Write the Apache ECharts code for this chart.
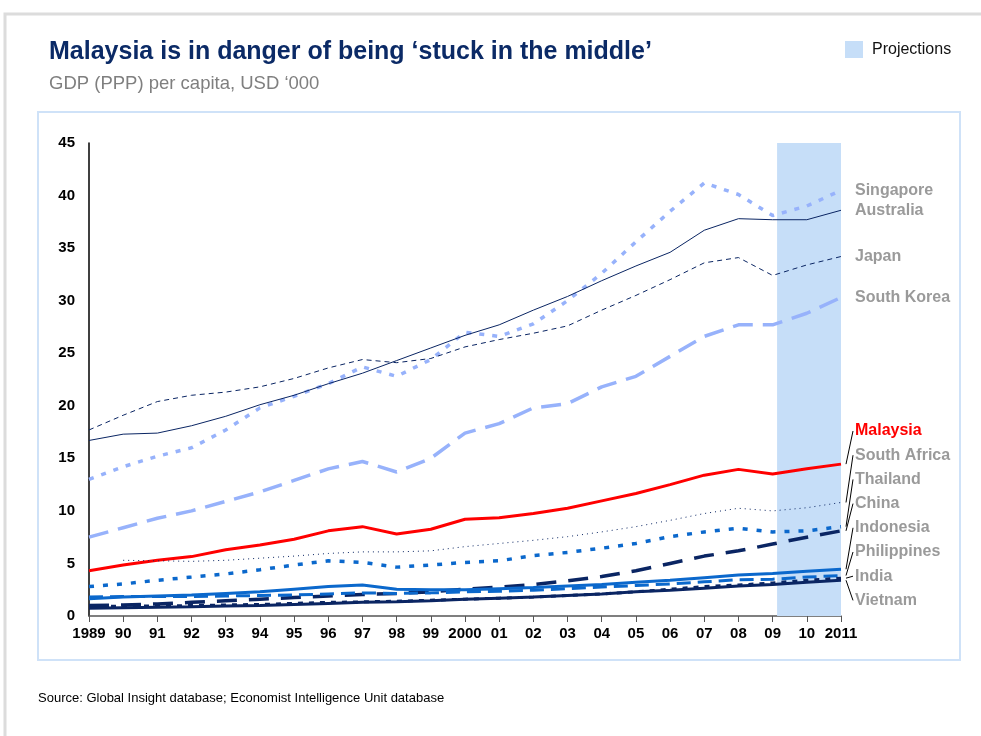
<!DOCTYPE html>
<html>
<head>
<meta charset="utf-8">
<script src="https://cdn.jsdelivr.net/npm/echarts@6/dist/echarts.min.js"></script>
<style>
  html, body { margin: 0; padding: 0; background: #fff; }
  #main { width: 981px; height: 736px; }
</style>
</head>
<body>
<div id="main"></div>
<script>
// years and tick labels
const years = [1989, 1990, 1991, 1992, 1993, 1994, 1995, 1996, 1997, 1998, 1999, 2000,
               2001, 2002, 2003, 2004, 2005, 2006, 2007, 2008, 2009, 2010, 2011];
const xTickLabels = ['1989', '90', '91', '92', '93', '94', '95', '96', '97', '98', '99', '2000',
                     '01', '02', '03', '04', '05', '06', '07', '08', '09', '10', '2011'];
const projectionStart = 2009.13;
const projectionEnd = 2011;

// GDP (PPP) per capita, USD '000
const singapore   = [13.0, 14.2, 15.2, 16.0, 17.7, 19.8, 20.9, 22.1, 23.7, 22.8, 24.4, 27.0, 26.6, 27.8, 30.0, 32.6, 35.6, 38.5, 41.2, 40.1, 38.1, 39.0, 40.5];
const australia   = [16.7, 17.3, 17.4, 18.1, 19.0, 20.1, 21.0, 22.1, 23.1, 24.3, 25.5, 26.7, 27.7, 29.1, 30.4, 31.9, 33.3, 34.6, 36.7, 37.8, 37.7, 37.7, 38.6];
const japan       = [17.7, 19.1, 20.4, 21.0, 21.3, 21.8, 22.6, 23.6, 24.4, 24.1, 24.5, 25.6, 26.3, 26.9, 27.6, 29.1, 30.5, 32.0, 33.6, 34.1, 32.4, 33.4, 34.2];
const southKorea  = [7.5, 8.4, 9.3, 10.0, 10.9, 11.8, 12.9, 14.0, 14.7, 13.7, 15.0, 17.4, 18.3, 19.8, 20.2, 21.8, 22.8, 24.7, 26.6, 27.7, 27.7, 28.8, 30.3];
const malaysia    = [4.3, 4.85, 5.3, 5.65, 6.3, 6.75, 7.3, 8.1, 8.5, 7.8, 8.25, 9.2, 9.35, 9.75, 10.25, 10.95, 11.65, 12.5, 13.4, 13.95, 13.5, 14.0, 14.45];
const southAfrica = [null, 5.3, 5.25, 5.2, 5.3, 5.5, 5.7, 5.95, 6.1, 6.1, 6.2, 6.6, 6.9, 7.2, 7.55, 8.0, 8.5, 9.1, 9.75, 10.25, 10.0, 10.3, 10.8];
const thailand    = [2.8, 3.05, 3.4, 3.7, 4.0, 4.4, 4.85, 5.25, 5.1, 4.65, 4.85, 5.1, 5.25, 5.75, 6.05, 6.45, 6.9, 7.55, 8.0, 8.35, 8.0, 8.1, 8.5];
const china       = [1.0, 1.05, 1.15, 1.3, 1.45, 1.6, 1.75, 1.9, 2.05, 2.15, 2.3, 2.55, 2.75, 3.0, 3.35, 3.75, 4.3, 5.0, 5.7, 6.2, 6.85, 7.5, 8.1];
const indonesia   = [1.65, 1.8, 1.9, 2.0, 2.15, 2.3, 2.55, 2.8, 2.95, 2.55, 2.5, 2.5, 2.6, 2.7, 2.85, 3.0, 3.2, 3.4, 3.65, 3.9, 4.05, 4.25, 4.45];
const philippines = [1.8, 1.85, 1.85, 1.85, 1.9, 1.95, 2.0, 2.1, 2.2, 2.15, 2.2, 2.3, 2.35, 2.45, 2.6, 2.75, 2.9, 3.05, 3.25, 3.45, 3.5, 3.7, 3.85];
const india       = [0.9, 0.95, 0.95, 1.0, 1.05, 1.1, 1.2, 1.3, 1.35, 1.4, 1.5, 1.6, 1.7, 1.8, 1.95, 2.1, 2.3, 2.55, 2.8, 2.95, 3.15, 3.4, 3.6];
const vietnam     = [0.73, 0.78, 0.83, 0.88, 0.94, 1.0, 1.1, 1.2, 1.3, 1.35, 1.45, 1.6, 1.7, 1.8, 1.95, 2.1, 2.3, 2.45, 2.65, 2.85, 3.0, 3.2, 3.4];

const NAVY = '#0a2563';
const LIGHT = '#97b2fb';
const MID = '#0b68cc';
const GREY = '#9a9a9a';
const FONT = 'Arial, "Liberation Sans", sans-serif';

// name, data, colour, width, dash type, label placed at line end?
const seriesDefs = [
    ['Singapore', singapore, LIGHT, 3.5, [5, 8], true],
    ['Australia', australia, NAVY, 1, 'solid', true],
    ['Japan', japan, NAVY, 1, [5, 4], true],
    ['South Korea', southKorea, LIGHT, 3.5, [20, 10], true],
    ['Malaysia', malaysia, '#ff0000', 3, 'solid', false],
    ['South Africa', southAfrica, NAVY, 1, [1, 4], false],
    ['Thailand', thailand, MID, 3.5, [5, 9], false],
    ['China', china, NAVY, 3.5, [20, 12], false],
    ['Indonesia', indonesia, MID, 3, 'solid', false],
    ['Philippines', philippines, MID, 3, [14, 7], false],
    ['India', india, NAVY, 3, [5, 6], false],
    ['Vietnam', vietnam, NAVY, 3, 'solid', false]
];

function pairs(arr) {
    return years.map((y, i) => [y, arr[i]]);
}

const series = [{
    // projections band
    type: 'line',
    data: [],
    z: 1,
    silent: true,
    markArea: {
        silent: true,
        itemStyle: { color: '#c6def8' },
        data: [[{ xAxis: projectionStart, yAxis: 0 }, { xAxis: projectionEnd, yAxis: 45 }]]
    }
}];

seriesDefs.forEach(d => {
    series.push({
        name: d[0],
        type: 'line',
        data: pairs(d[1]),
        z: 3,
        showSymbol: false,
        symbol: 'none',
        connectNulls: false,
        lineStyle: { color: d[2], width: d[3], type: d[4] },
        endLabel: {
            show: d[5],
            formatter: '{a}',
            color: GREY,
            fontFamily: FONT,
            fontWeight: 'bold',
            fontSize: 16,
            distance: 14
        }
    });
});

const chart = echarts.init(document.getElementById('main'));

const option = {
    animation: false,
    backgroundColor: '#fff',
    title: {
        text: 'Malaysia is in danger of being ‘stuck in the middle’',
        subtext: 'GDP (PPP) per capita, USD ‘000',
        left: 44,
        top: 35,
        itemGap: 9,
        textStyle: { color: '#0b2a66', fontSize: 25, fontWeight: 'bold', fontFamily: FONT },
        subtextStyle: { color: '#7f7f7f', fontSize: 18.5, fontFamily: FONT }
    },
    grid: { left: 89, right: 140, top: 143, bottom: 120 },
    xAxis: {
        type: 'value',
        min: 1989,
        max: 2011,
        interval: 1,
        splitLine: { show: false },
        axisLine: { lineStyle: { color: '#555', width: 1.5 } },
        axisTick: { length: 6, lineStyle: { color: '#555' } },
        axisLabel: {
            color: '#000',
            fontWeight: 'bold',
            fontSize: 15,
            fontFamily: FONT,
            margin: 10,
            formatter: v => xTickLabels[years.indexOf(v)] || ''
        }
    },
    yAxis: {
        type: 'value',
        min: 0,
        max: 45,
        interval: 5,
        splitLine: { show: false },
        axisLine: { show: true, lineStyle: { color: '#000', width: 1.5 } },
        axisTick: { show: false },
        axisLabel: { color: '#000', fontWeight: 'bold', fontSize: 15, fontFamily: FONT, margin: 14 }
    },
    series: series
};

chart.setOption(option);

// frames, legend box, source, and labels for the bundled lower series
const graphics = [
    { type: 'rect', z: -10, shape: { x: 5, y: 14, width: 1200, height: 900 },
      style: { fill: 'none', stroke: '#dcdcdc', lineWidth: 3 } },
    { type: 'rect', z: -5, shape: { x: 38, y: 112, width: 922, height: 548 },
      style: { fill: 'none', stroke: '#cfe2f8', lineWidth: 2 } },
    { type: 'rect', shape: { x: 845, y: 41, width: 18, height: 17 }, style: { fill: '#c6def8' } },
    { type: 'text', x: 872, y: 50, style: { text: 'Projections', fill: '#111', font: '16px ' + FONT, verticalAlign: 'middle' } },
    { type: 'text', x: 38, y: 698, style: { text: 'Source: Global Insight database; Economist Intelligence Unit database', fill: '#000', font: '13px ' + FONT, verticalAlign: 'middle' } }
];

const bundled = seriesDefs.filter(d => !d[5]);
const labelX = 855;
const labelTop = 431;
const labelStep = 24.2;
bundled.forEach((d, i) => {
    const last = d[1][d[1].length - 1];
    const p = chart.convertToPixel({ gridIndex: 0 }, [years[years.length - 1], last]);
    const ly = labelTop + i * labelStep;
    graphics.push({
        type: 'line',
        shape: { x1: p[0] + 5, y1: p[1], x2: labelX - 2, y2: ly },
        style: { stroke: '#000', lineWidth: 1 }
    });
    graphics.push({
        type: 'text', x: labelX, y: ly,
        style: {
            text: d[0],
            fill: d[0] === 'Malaysia' ? '#ff0000' : GREY,
            font: 'bold 16px ' + FONT,
            verticalAlign: 'middle'
        }
    });
});

chart.setOption({ graphic: graphics });
</script>
</body>
</html>
